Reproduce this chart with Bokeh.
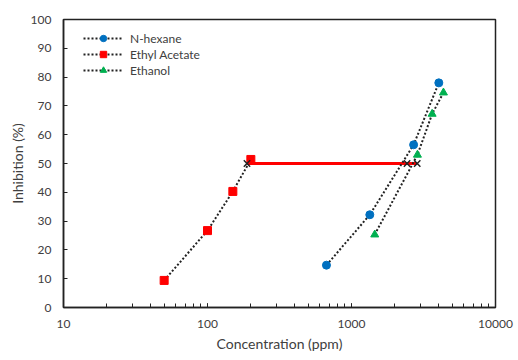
from bokeh.plotting import figure
from bokeh.models import Legend, LegendItem, FixedTicker, LogTicker, PrintfTickFormatter
from bokeh.embed import file_html
from bokeh.resources import INLINE

# Data
hex_x = [670, 1340, 2700, 4040]
hex_y = [14.7, 32.2, 56.5, 78.0]
eth_ac_x = [50, 100, 150, 200]
eth_ac_y = [9.4, 26.7, 40.3, 51.4]
ethanol_x = [1450, 2870, 3630, 4350]
ethanol_y = [25.3, 53.0, 67.2, 74.6]
ic50_x = [2430, 188, 2860]   # N-hexane, Ethyl Acetate, Ethanol
ic50_y = [50, 50, 50]
y_ticks = list(range(0, 101, 10))
x_ticks = [10, 100, 1000, 10000]

FONT = "Lato"
GRAY = "#404040"

p = figure(width=518, height=360, x_axis_type="log", x_range=(10, 10000), y_range=(0, 100),
           output_backend="svg", toolbar_location=None,
           min_border_left=63, min_border_right=23, min_border_top=19, min_border_bottom=53)
p.xgrid.visible = False
p.ygrid.visible = False
p.outline_line_color = "#222222"
p.outline_line_width = 1.5
p.background_fill_color = "white"
p.border_fill_color = "white"

# Red IC50 connector line
p.line([ic50_x[1], ic50_x[2]], [50, 50], line_color="#ff0000", line_width=3)

dot = dict(line_color="#222222", line_width=2, line_dash="2 2")
l1 = p.line(hex_x, hex_y, **dot)
s1 = p.scatter(hex_x, hex_y, marker="circle", size=8, fill_color="#0070c0", line_color="#0070c0")
l2 = p.line(eth_ac_x, eth_ac_y, **dot)
s2 = p.scatter(eth_ac_x, eth_ac_y, marker="square", size=8, fill_color="#ff0000", line_color="#ff0000")
l3 = p.line(ethanol_x, ethanol_y, **dot)
s3 = p.scatter(ethanol_x, ethanol_y, marker="triangle", size=8, fill_color="#00b050", line_color="#00b050")

p.scatter(ic50_x, ic50_y, marker="x", size=9, line_color="#222222", line_width=1.5)

legend = Legend(items=[
    LegendItem(label="N-hexane", renderers=[l1, s1]),
    LegendItem(label="Ethyl Acetate", renderers=[l2, s2]),
    LegendItem(label="Ethanol", renderers=[l3, s3]),
], location=(20, 229), margin=0, padding=0, spacing=0,
    glyph_width=40, glyph_height=16, label_height=16, label_standoff=7,
    label_text_font=FONT, label_text_font_size="12px", label_text_color=GRAY,
    border_line_color=None, background_fill_alpha=0)
p.add_layout(legend, "center")

# Axes
for ax in (p.xaxis[0], p.yaxis[0]):
    ax.axis_line_color = "#222222"
    ax.axis_line_width = 1.5
    ax.major_tick_line_color = "#222222"
    ax.major_tick_in = 4
    ax.major_tick_out = 0
    ax.minor_tick_line_color = "#222222"
    ax.major_label_text_font = FONT
    ax.major_label_text_font_size = "12px"
    ax.major_label_text_color = GRAY
    ax.axis_label_text_font = FONT
    ax.axis_label_text_font_size = "14px"
    ax.axis_label_text_font_style = "normal"
    ax.axis_label_text_color = GRAY

p.xaxis.ticker = LogTicker(desired_num_ticks=4, num_minor_ticks=10)
p.xaxis.formatter = PrintfTickFormatter(format="%d")
p.xaxis.minor_tick_in = 4
p.xaxis.minor_tick_out = 0
p.xaxis.major_label_standoff = 12
p.xaxis.axis_label = "Concentration (ppm)"
p.xaxis.axis_label_standoff = 4

p.yaxis.ticker = FixedTicker(ticks=y_ticks)
p.yaxis.minor_tick_line_color = None
p.yaxis.major_label_standoff = 12
p.yaxis.axis_label = "Inhibition (%)"
p.yaxis.axis_label_standoff = 2

open("out.html", "w").write(file_html(p, INLINE))
